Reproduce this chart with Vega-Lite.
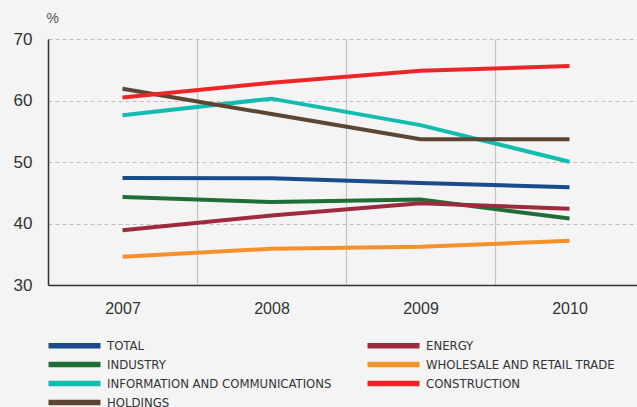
{
  "$schema": "https://vega.github.io/schema/vega-lite/v6.json",
  "autosize": "none",
  "padding": {"left": 48, "top": 39, "right": 0, "bottom": 122},
  "width": 596,
  "height": 246,
  "background": "#f4f4f4",
  "data": {
    "values": [
      {"year": "2007", "sector": "TOTAL", "value": 47.4},
      {"year": "2008", "sector": "TOTAL", "value": 47.35},
      {"year": "2009", "sector": "TOTAL", "value": 46.6},
      {"year": "2010", "sector": "TOTAL", "value": 45.9},
      {"year": "2007", "sector": "INDUSTRY", "value": 44.3},
      {"year": "2008", "sector": "INDUSTRY", "value": 43.5},
      {"year": "2009", "sector": "INDUSTRY", "value": 43.9},
      {"year": "2010", "sector": "INDUSTRY", "value": 40.8},
      {"year": "2007", "sector": "INFORMATION AND COMMUNICATIONS", "value": 57.6},
      {"year": "2008", "sector": "INFORMATION AND COMMUNICATIONS", "value": 60.3},
      {"year": "2009", "sector": "INFORMATION AND COMMUNICATIONS", "value": 56.0},
      {"year": "2010", "sector": "INFORMATION AND COMMUNICATIONS", "value": 50.05},
      {"year": "2007", "sector": "HOLDINGS", "value": 61.9},
      {"year": "2008", "sector": "HOLDINGS", "value": 57.8},
      {"year": "2009", "sector": "HOLDINGS", "value": 53.7},
      {"year": "2010", "sector": "HOLDINGS", "value": 53.7},
      {"year": "2007", "sector": "ENERGY", "value": 38.9},
      {"year": "2008", "sector": "ENERGY", "value": 41.3},
      {"year": "2009", "sector": "ENERGY", "value": 43.3},
      {"year": "2010", "sector": "ENERGY", "value": 42.4},
      {"year": "2007", "sector": "WHOLESALE AND RETAIL TRADE", "value": 34.6},
      {"year": "2008", "sector": "WHOLESALE AND RETAIL TRADE", "value": 35.9},
      {"year": "2009", "sector": "WHOLESALE AND RETAIL TRADE", "value": 36.2},
      {"year": "2010", "sector": "WHOLESALE AND RETAIL TRADE", "value": 37.2},
      {"year": "2007", "sector": "CONSTRUCTION", "value": 60.5},
      {"year": "2008", "sector": "CONSTRUCTION", "value": 62.9},
      {"year": "2009", "sector": "CONSTRUCTION", "value": 64.85},
      {"year": "2010", "sector": "CONSTRUCTION", "value": 65.6}
    ]
  },
  "mark": {"type": "line", "strokeWidth": 4, "strokeCap": "butt"},
  "encoding": {
    "x": {
      "field": "year",
      "type": "ordinal",
      "scale": {"type": "band", "paddingInner": 0, "paddingOuter": 0},
      "axis": {
        "title": null,
        "labelAngle": 0,
        "labelFont": "Liberation Sans",
        "labelFontSize": 16,
        "labelColor": "#333333",
        "labelPadding": 15,
        "domainColor": "#333333",
        "domainWidth": 1.5,
        "tickBand": "extent",
        "ticks": false,
        "grid": true,
        "gridColor": "#c4c4c4",
        "gridWidth": 1.2
      }
    },
    "y": {
      "field": "value",
      "type": "quantitative",
      "scale": {"domain": [30, 70], "nice": false, "zero": false},
      "axis": {
        "title": "%",
        "titleAngle": 0,
        "titleX": -2,
        "titleY": -17,
        "titleAlign": "left",
        "titleBaseline": "alphabetic",
        "titleFont": "Liberation Sans",
        "titleFontSize": 14,
        "titleFontWeight": "normal",
        "titleColor": "#555555",
        "values": [30, 40, 50, 60, 70],
        "labelFont": "Liberation Sans",
        "labelFontSize": 17,
        "labelColor": "#333333",
        "labelPadding": 16,
        "ticks": false,
        "domainColor": "#333333",
        "domainWidth": 1.5,
        "grid": true,
        "gridColor": "#bdbdbd",
        "gridDash": [4, 3],
        "gridWidth": 1.2
      }
    },
    "color": {
      "field": "sector",
      "type": "nominal",
      "scale": {
        "domain": ["TOTAL", "INDUSTRY", "INFORMATION AND COMMUNICATIONS", "HOLDINGS", "ENERGY", "WHOLESALE AND RETAIL TRADE", "CONSTRUCTION"],
        "range": ["#1b4b8b", "#1f6e36", "#12bcb0", "#5c4633", "#9e2a3e", "#f5902a", "#ee2526"]
      },
      "legend": {
        "title": null,
        "orient": "none",
        "legendX": -6,
        "legendY": 300,
        "columns": 2,
        "columnPadding": 24,
        "rowPadding": -4,
        "padding": 0,
        "symbolType": "M0,0H26",
        "symbolSize": 16,
        "symbolStrokeWidth": 5.5,
        "labelOffset": 52,
        "labelFont": "DejaVu Sans Condensed, Liberation Sans, sans-serif",
        "labelFontSize": 13,
        "labelColor": "#333333",
        "labelLimit": 400
      }
    }
  },
  "config": {"view": {"stroke": null}}
}
